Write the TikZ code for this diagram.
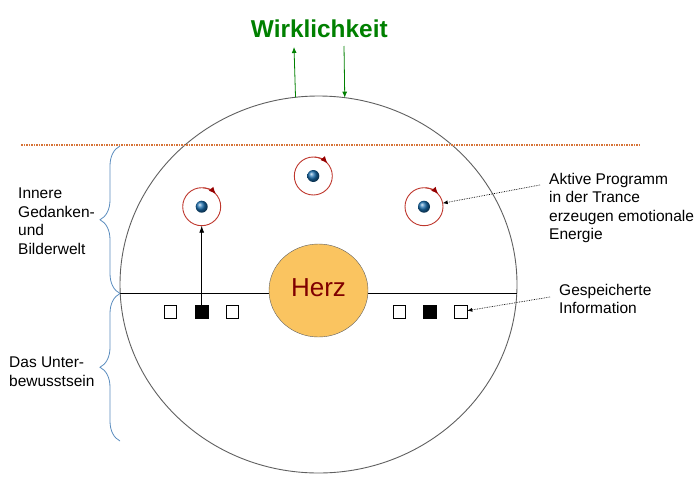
\documentclass[tikz,border=0pt]{standalone}
\usepackage{fontspec}
\setmainfont{Liberation Sans}
\usetikzlibrary{arrows.meta,shapes.geometric,decorations.pathreplacing}

\definecolor{wirkgruen}{RGB}{0,128,0}
\definecolor{kreisgrau}{RGB}{95,95,95}
\definecolor{herzgelb}{RGB}{250,196,96}
\definecolor{herzrot}{RGB}{128,0,0}
\definecolor{bahnrot}{RGB}{190,55,45}
\definecolor{pfeilrot}{RGB}{150,0,0}
\definecolor{kernblau}{RGB}{25,110,175}
\definecolor{klammerblau}{RGB}{90,140,190}
\definecolor{strichbraun}{RGB}{215,115,55}

\begin{document}
\begin{tikzpicture}[x=1pt,y=1pt,
  txt/.style={anchor=north west,inner sep=0pt,align=left,font=\fontsize{15.5}{18.5}\selectfont},
  quad/.style={draw,minimum size=12.5pt,inner sep=0pt,outer sep=0pt,line width=0.7pt},
  bahn/.style={circle,draw=bahnrot,line width=0.9pt,minimum size=38pt,inner sep=0pt,outer sep=0pt},
  kern/.style={circle,shading=ball,ball color=kernblau,minimum size=12pt,inner sep=0pt},
  klammer/.style={draw=klammerblau,line width=0.8pt,decorate,decoration={brace,amplitude=20pt}},
  hinweis/.style={densely dotted,line width=0.7pt,-{Latex[length=5pt,width=4pt]}},
  gruenpfeil/.style={draw=wirkgruen,line width=0.8pt,-{Latex[length=6pt,width=5pt]}}]

\useasboundingbox (0,0) rectangle (700,-479);

\node (kreis) [ellipse,draw=kreisgrau,line width=0.9pt,minimum width=397pt,minimum height=377pt,inner sep=0pt,outer sep=0pt] at (318.5,-284.5) {};

\draw[draw=strichbraun,line width=1.1pt,dash pattern=on 1.5pt off 1pt] (21,-145) -- (639,-145);

\coordinate (mitte) at (318.5,-293.5);
\draw[line width=0.8pt] (kreis.west |- mitte) -- (kreis.east |- mitte);

\node (herz) [ellipse,draw=kreisgrau,fill=herzgelb,minimum width=99pt,minimum height=93pt,inner sep=0pt,text depth=6pt,text=herzrot,font=\fontsize{26}{26}\selectfont] at (318.5,-290.5) {Herz};

\foreach \x/\f [count=\i] in {170.3/white,201.7/black,232.3/white,399.3/white,430/black,461/white}
    \node (s\i) [quad,fill=\f] at (\x,-311.7) {};

\foreach \x/\y [count=\i] in {201.7/206.7,313.3/176,424/206.7} {
    \node (atom\i) [bahn] at (\x,-\y) {};
    \node (kern\i) [kern] at (atom\i) {};
    \draw[draw=bahnrot,line width=0.9pt,-{Latex[length=7pt,width=6pt,color=pfeilrot]}] (atom\i.85) arc[start angle=85,end angle=42,radius=19pt];
}

\draw[line width=0.8pt,-{Latex[length=7pt,width=5pt]}] (s2) -- (atom1);

\node (wirk) [anchor=base,text=wirkgruen,font=\fontsize{24.4}{24}\selectfont\bfseries] at (319.3,-37.7) {Wirklichkeit};
\coordinate (hoch) at (294,-47);
\coordinate (runter) at (344,-46);
\draw[gruenpfeil] (kreis.97.4) -- (hoch);
\draw[gruenpfeil] (runter) -- (kreis.82.3);

\coordinate (k1) at (120,-146);
\coordinate (k2) at (120,-293.5);
\coordinate (k3) at (120,-441);
\draw[klammer] (k2) -- (k1);
\draw[klammer] (k3) -- (k2);

\node (innen) [txt] at (18,-188) {Innere\\Gedanken-\\und\\Bilderwelt};
\node (unter) [txt] at (9,-357) {Das Unter-\\bewusstsein};
\node (aktiv) [txt] at (549,-173) {Aktive Programm\\in der Trance\\erzeugen emotionale\\Energie};
\node (info) [txt] at (559,-284) {Gespeicherte\\Information};

\coordinate (aktivfuss) at (540,-185);
\coordinate (infofuss) at (550,-297);
\draw[hinweis] (aktivfuss) -- (atom3);
\draw[hinweis] (infofuss) -- (s6);

\end{tikzpicture}
\end{document}
